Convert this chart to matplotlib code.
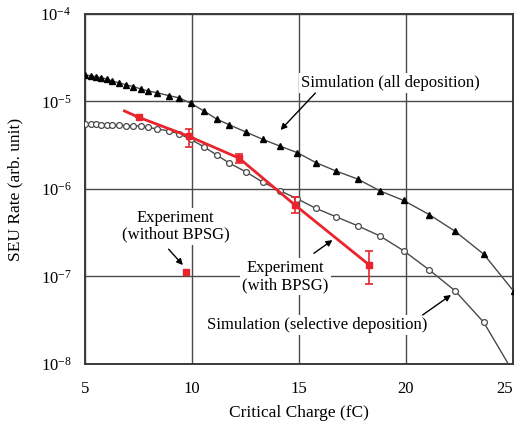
import numpy as np
import matplotlib
matplotlib.use("Agg")
import matplotlib.pyplot as plt

plt.rcParams['font.family'] = ['Liberation Serif', 'DejaVu Serif']
plt.rcParams['mathtext.fontset'] = 'custom'
plt.rcParams['mathtext.rm'] = 'Liberation Serif'
plt.rcParams['mathtext.it'] = 'Liberation Serif:italic'

# Critical charge grid shared by both simulations (fC)
qcrit_sim = [5.0, 5.25, 5.5, 5.75, 6.0, 6.25, 6.6, 6.9, 7.25, 7.6, 7.95, 8.35,
             8.9, 9.4, 9.95, 10.55, 11.15, 11.75, 12.5, 13.3, 14.1, 14.93,
             15.8, 16.75, 17.75, 18.8, 19.9, 21.1, 22.3, 23.65, 25.05]

# Simulation, all charge deposition
seu_all = [2.01e-5, 1.97e-5, 1.92e-5, 1.87e-5, 1.81e-5, 1.71e-5, 1.63e-5,
           1.55e-5, 1.48e-5, 1.39e-5, 1.32e-5, 1.26e-5, 1.17e-5, 1.10e-5,
           9.5e-6, 7.8e-6, 6.3e-6, 5.4e-6, 4.5e-6, 3.7e-6, 3.1e-6, 2.6e-6,
           2.0e-6, 1.6e-6, 1.3e-6, 9.5e-7, 7.4e-7, 5.1e-7, 3.3e-7, 1.8e-7,
           6.8e-8]

# Simulation, selective deposition
seu_sel = [5.53e-6, 5.50e-6, 5.46e-6, 5.41e-6, 5.38e-6, 5.38e-6, 5.35e-6,
           5.30e-6, 5.25e-6, 5.25e-6, 5.07e-6, 4.85e-6, 4.63e-6, 4.26e-6,
           3.68e-6, 3.04e-6, 2.45e-6, 1.97e-6, 1.58e-6, 1.20e-6, 9.6e-7,
           7.7e-7, 6.0e-7, 4.8e-7, 3.8e-7, 2.9e-7, 1.97e-7, 1.19e-7, 6.9e-8,
           3.0e-8, 7.9e-9]

# Experiment with BPSG (line starts a little before the first measurement)
qcrit_exp = [6.83, 7.5, 9.85, 12.2, 14.8, 18.3]
seu_exp = [7.8e-6, 6.6e-6, 4.0e-6, 2.25e-6, 6.6e-7, 1.35e-7]
seu_exp_hi = [7.8e-6, 6.6e-6, 4.9e-6, 2.5e-6, 8.2e-7, 1.97e-7]
seu_exp_lo = [7.8e-6, 6.6e-6, 3.0e-6, 2.0e-6, 5.3e-7, 8.2e-8]

# Experiment without BPSG
qcrit_nobpsg = [9.71]
seu_nobpsg = [1.13e-7]

xticks = [5, 10, 15, 20, 25]
yticks = [1e-8, 1e-7, 1e-6, 1e-5, 1e-4]
ytick_labels = [r'$10^{-8}$', r'$10^{-7}$', r'$10^{-6}$', r'$10^{-5}$', r'$10^{-4}$']

red = '#e8242c'
gray = '#4a4a4a'

fig = plt.figure(figsize=(5.16, 4.23), dpi=100)
ax = fig.add_axes([0.1653, 0.1395, 0.828, 0.8274])

ax.plot(qcrit_sim, seu_all, color=gray, lw=1.0, marker='^', ms=4.6,
        mfc='black', mec='black', zorder=3)
ax.plot(qcrit_sim, seu_sel, color=gray, lw=1.0, marker='o', ms=4.2,
        mfc='white', mec=gray, mew=0.9, zorder=3)

ax.plot(qcrit_exp, seu_exp, color=red, lw=2.0, marker='s', ms=5,
        markevery=list(range(1, len(qcrit_exp))), zorder=4)
err = [np.array(seu_exp[1:]) - np.array(seu_exp_lo[1:]),
       np.array(seu_exp_hi[1:]) - np.array(seu_exp[1:])]
ax.errorbar(qcrit_exp[1:], seu_exp[1:], yerr=err, fmt='none', ecolor=red,
            elinewidth=1.2, capsize=3.2, capthick=1.2, zorder=4)
ax.plot(qcrit_nobpsg, seu_nobpsg, ls='none', marker='s', ms=5, color=red,
        zorder=4)

ax.set_yscale('log')
ax.set_xlim(5, 25)
ax.set_ylim(1e-8, 1e-4)
ax.set_xticks(xticks)
ax.set_xticklabels([str(t) for t in xticks])
ax.get_xticklabels()[-1].set_horizontalalignment('right')
ax.set_yticks(yticks)
ax.set_yticklabels(ytick_labels)
ax.yaxis.set_minor_locator(matplotlib.ticker.NullLocator())
ax.tick_params(axis='both', length=0, labelsize=12)
ax.tick_params(axis='x', pad=12)
ax.tick_params(axis='y', pad=10)

ax.grid(True, color=gray, lw=1.0)
for s in ax.spines.values():
    s.set_color('#3a3a3a')
    s.set_linewidth(1.4)

ax.set_xlabel('Critical Charge (fC)', fontsize=12.5, labelpad=6)
ax.set_ylabel('SEU Rate (arb. unit)', fontsize=12.5, labelpad=12)

box = dict(facecolor='white', edgecolor='none', pad=1.5)
arrow = dict(arrowstyle='-|>', color='black', lw=1.0, mutation_scale=9,
             shrinkA=0, shrinkB=0)


def label(txt, xy, tail, head):
    ax.text(xy[0], xy[1], txt, ha='center', va='center', fontsize=12,
            linespacing=1.05, bbox=box, zorder=1.8)
    ax.annotate('', xy=head, xytext=tail, arrowprops=arrow, zorder=5)


label('Simulation (all deposition)', (19.3, 1.63e-5),
      (15.77, 1.25e-5), (14.14, 4.72e-6))
label('Experiment\n(without BPSG)', (9.22, 3.72e-7),
      (8.9, 2.05e-7), (9.57, 1.35e-7))
label('Experiment\n(with BPSG)', (14.38, 9.95e-8),
      (15.70, 1.84e-7), (16.57, 2.61e-7))
label('Simulation (selective deposition)', (15.86, 2.79e-8),
      (20.79, 3.63e-8), (22.12, 6.15e-8))

fig.savefig('out.png', dpi=100, facecolor='white')
